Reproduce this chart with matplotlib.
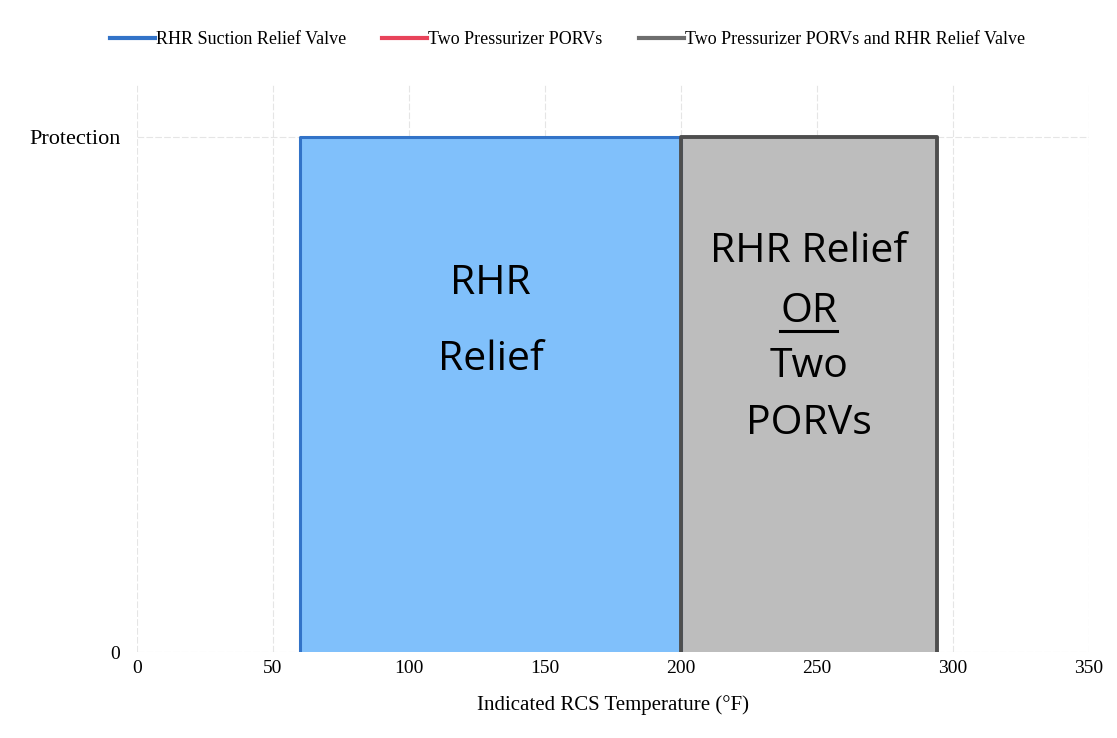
import matplotlib
matplotlib.use("Agg")
import matplotlib.pyplot as plt
from matplotlib.lines import Line2D

# protection bands along indicated RCS temperature (deg F)
rhr_x = [60, 60, 200, 200]
rhr_y = [0, 1, 1, 0]
porv_x = [200, 200, 200, 200]
porv_y = [0, 0, 0, 0]
both_x = [200, 200, 294, 294]
both_y = [0, 1, 1, 0]

series_names = ["RHR Suction Relief Valve", "Two Pressurizer PORVs",
                "Two Pressurizer PORVs and RHR Relief Valve"]
x_ticks = [0, 50, 100, 150, 200, 250, 300, 350]
y_ticks = [0, 1]
y_tick_labels = ["0", "Protection"]

left_lines = ["RHR", "Relief"]
right_lines = ["RHR Relief", "OR", "Two", "PORVs"]

blue_edge = "#3273c8"
blue_fill = "#80c0fb"
red_edge = "#e8435a"
gray_edge = "#4e4e4e"
gray_fill = "#bdbdbd"

serif = "Liberation Serif"
sans = "Open Sans"

fig = plt.figure(figsize=(11.17, 7.38), dpi=100)
ax = fig.add_axes([0.1227, 0.1165, 0.8523, 0.7683])

ax.fill(rhr_x, rhr_y, color=blue_fill, lw=0, zorder=2)
ax.fill(both_x, both_y, color=gray_fill, lw=0, zorder=2)
ax.plot(rhr_x, rhr_y, color=blue_edge, lw=2.2, zorder=3)
ax.plot(porv_x, porv_y, color=red_edge, lw=2.2, zorder=3)
ax.plot(both_x, both_y, color=gray_edge, lw=2.8, zorder=4)

ax.set_xlim(0, 350)
ax.set_ylim(0, 1.1)
ax.set_xticks(x_ticks)
ax.set_yticks(y_ticks)
ax.set_yticklabels(y_tick_labels)
for lab in ax.get_xticklabels():
    lab.set_fontfamily(serif)
    lab.set_fontsize(14)
for lab in ax.get_yticklabels():
    lab.set_fontfamily(serif)
    lab.set_fontsize(16 if lab.get_text() == "Protection" else 14)
ax.tick_params(length=0)
ax.tick_params(axis="y", pad=12)
ax.tick_params(axis="x", pad=6)

ax.grid(True, color="#d4d4d4", lw=0.8, ls=(0, (6, 2)), zorder=5, alpha=0.6)
for s in ax.spines.values():
    s.set_visible(False)

ax.set_xlabel("Indicated RCS Temperature (°F)", fontfamily=serif, fontsize=15, labelpad=13)

# band labels, one line at a time on fixed baselines
for txt, yy in zip(left_lines, [0.695, 0.547]):
    ax.text(130, yy, txt, ha="center", va="baseline", fontfamily=sans,
            fontsize=29.5, zorder=6)

fig.canvas.draw()
for txt, yy in zip(right_lines, [0.757, 0.640, 0.533, 0.422]):
    t = ax.text(247, yy, txt, ha="center", va="baseline", fontfamily=sans,
                fontsize=29.5, zorder=6)
    if txt == "OR":
        bb = t.get_window_extent(renderer=fig.canvas.get_renderer())
        bb = bb.transformed(ax.transData.inverted())
        ax.plot([bb.x0, bb.x1], [yy - 0.017, yy - 0.017],
                color="black", lw=2.2, zorder=6)

handles = [Line2D([], [], color=c, lw=3) for c in (blue_edge, red_edge, "#6e6e6e")]
fig.legend(handles, series_names, loc="center", bbox_to_anchor=(0.508, 0.946), ncol=3,
           frameon=False, handlelength=2.5, handletextpad=0.05, columnspacing=2.0,
           prop={"family": serif, "size": 13})

fig.savefig("out.png", dpi=100)
